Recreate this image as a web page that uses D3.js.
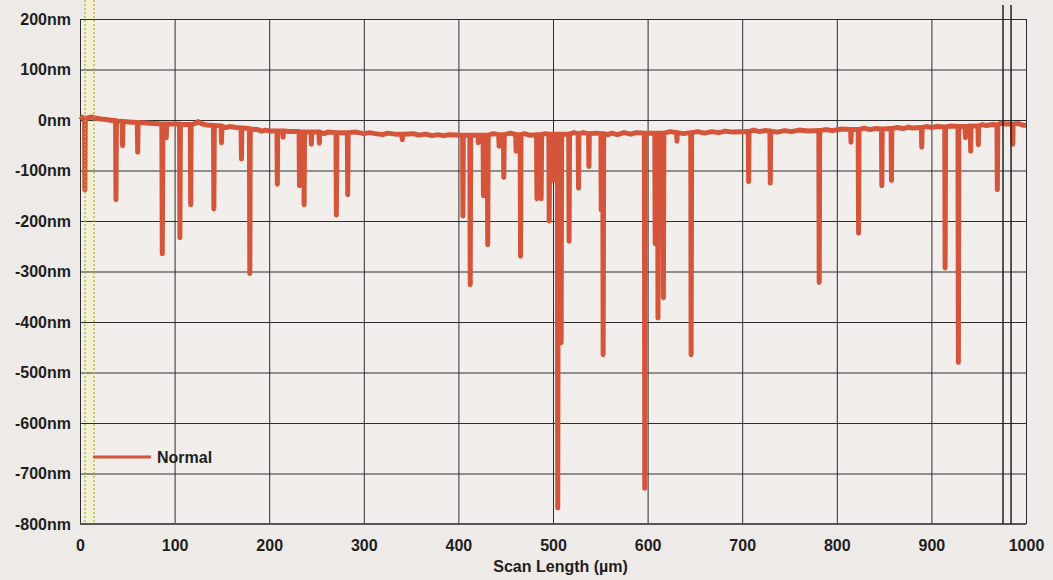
<!DOCTYPE html>
<html>
<head>
<meta charset="utf-8">
<script src="https://cdn.jsdelivr.net/npm/d3@7"></script>
<style>
  body { margin: 0; background: #eeeae7; }
  svg { display: block; }
  text { font-family: "Liberation Sans", Arial, sans-serif; font-weight: bold; fill: #1e1e1e; }
</style>
</head>
<body>
<div id="chart"></div>
<script>
// profile: [scan length um, height nm]
var profile = [
    [0, 7], [2, 5], [4.8, 4], [5.1, -138], [5.6, 3], [8, 4], [12, 6], [16, 4], [22, 2], [28, 1], [34, -1],
    [37.6, -1], [38, -158], [38.5, -2], [44.6, -3], [45, -51], [45.4, -3], [52, -4], [60.6, -5], [61, -64], [61.4, -5], [70, -6], [78, -7],
    [86.5, -8], [87, -265], [87.6, -8], [90.8, -8], [91.2, -35], [91.6, -8], [98, -8],
    [105.2, -8], [105.6, -233], [106.1, -9], [111, -9], [116.6, -9], [117, -168], [117.5, -9], [123, -6], [125, -3], [128, -7], [134, -10],
    [141.1, -11], [141.5, -176], [142, -11], [149.2, -12], [149.6, -45], [150, -12], [154, -15], [158, -13], [165, -15],
    [170.3, -16], [170.7, -77], [171.1, -16], [179.1, -17], [179.5, -304], [180, -18], [188, -19], [192, -22], [196, -20], [202, -22],
    [208.2, -22], [208.6, -127], [209, -22], [214.3, -22], [214.7, -34], [215.1, -22], [222, -23],
    [231.6, -23], [232, -130], [232.5, -24], [236.5, -24], [236.9, -168], [237.4, -24], [244.2, -24], [244.6, -48], [245, -24],
    [252.6, -24], [253, -46], [253.4, -24], [258, -27], [262, -24],
    [270.6, -25], [271, -188], [271.5, -25], [282.6, -25], [283, -148], [283.5, -25], [292, -24], [300, -27], [306, -25], [312, -27], [320, -29], [325, -26], [333, -28],
    [340.3, -28], [340.7, -39], [341.1, -28], [352, -27], [358, -30], [365, -28], [372, -31], [378, -29], [385, -31], [390, -29],
    [404.4, -30], [404.8, -190], [405.2, -30], [412.1, -30], [412.5, -326], [413, -30], [420.6, -30], [421, -45], [421.4, -30],
    [426.1, -30], [426.5, -150], [427, -30], [430.6, -30], [431, -247], [431.5, -30], [437, -27],
    [442.6, -29], [443, -52], [443.4, -29], [447.6, -29], [448, -114], [448.5, -29], [455, -26],
    [460.6, -29], [461, -62], [461.4, -29], [465.3, -29], [465.7, -270], [466.2, -29], [470, -27], [475, -30],
    [482.6, -29], [483, -156], [483.5, -29], [487.1, -29], [487.5, -156], [488, -29], [492, -27],
    [495.6, -28], [496, -200], [496.5, -28], [499.6, -28], [500, -120], [500.4, -28],
    [504.6, -28], [505, -768], [505.6, -28], [508.2, -28], [508.6, -441], [509.1, -28], [513, -28],
    [516.6, -28], [517, -240], [517.5, -28], [522, -25], [526.6, -27], [527, -135], [527.4, -27],
    [532, -25], [537.6, -27], [538, -92], [538.4, -27], [545, -26],
    [550.6, -27], [551, -178], [551.4, -27], [552.6, -27], [553, -465], [553.6, -27], [558, -29], [562, -26], [568, -29],
    [575, -25], [582, -28], [588, -25],
    [596.6, -26], [597, -729], [597.6, -26], [603, -26], [607.6, -26], [608, -245], [608.4, -26], [610.6, -26], [611, -392], [611.5, -26],
    [616.3, -26], [616.7, -352], [617.2, -26], [624, -23],
    [630.6, -25], [631, -42], [631.4, -25], [638, -27], [645.6, -25], [646, -465], [646.6, -25], [653, -23], [660, -26], [668, -23],
    [675, -25], [682, -22], [690, -24],
    [706.4, -23], [706.8, -122], [707.2, -23], [712, -20], [718, -23], [724, -21], [729.3, -22], [729.7, -125], [730.1, -22],
    [737, -24], [745, -21], [752, -23], [760, -20], [770, -22],
    [781, -21], [781.4, -322], [781.9, -21], [788, -19], [795, -21], [805, -18], [814.6, -19], [815, -44], [815.4, -19],
    [822.6, -19], [823, -224], [823.5, -19], [829, -16], [835, -19], [841, -17], [847.2, -18], [847.6, -130], [848, -18],
    [857.4, -17], [857.8, -120], [858.2, -17], [864, -15], [870, -17], [876, -14], [880, -16],
    [889.4, -15], [889.8, -54], [890.2, -15], [895, -13], [900, -15], [906, -13], [914.1, -14], [914.5, -293], [915, -14], [921, -12],
    [928.1, -13], [928.5, -480], [929, -13], [935.6, -13], [936, -35], [936.4, -13], [941.1, -12], [941.5, -62], [941.9, -12],
    [949.2, -12], [949.6, -49], [950, -12], [954, -9], [958, -11], [965, -9], [969.3, -10], [969.7, -138], [970.2, -10], [974, -6], [978, -8],
    [985.6, -8], [986, -48], [986.4, -8], [992, -7], [996, -10], [1000, -11]
];

var xTicks = [0, 100, 200, 300, 400, 500, 600, 700, 800, 900, 1000];
var yTicks = [200, 100, 0, -100, -200, -300, -400, -500, -600, -700, -800];
var yellowCursors = [5.3, 14.8];   // um
var blackCursors = [975.7, 984.2]; // um
var seriesName = "Normal";
var xTitle = "Scan Length (\u00b5m)";

var W = 1053, H = 580;
var red = "#d5553b";

var svg = d3.select("#chart").append("svg")
            .attr("width", W).attr("height", H);

var x = d3.scaleLinear().domain([0, 1000]).range([80, 1026]);
var y = d3.scaleLinear().domain([-800, 200]).range([524, 19]);

// plot background
svg.append("rect")
   .attr("x", x(0)).attr("y", y(200))
   .attr("width", x(1000) - x(0)).attr("height", y(-800) - y(200))
   .attr("fill", "#f1eeec");

// yellow cursor band
svg.append("rect")
   .attr("x", x(yellowCursors[0])).attr("y", 0)
   .attr("width", x(yellowCursors[1]) - x(yellowCursors[0]))
   .attr("height", y(-800))
   .attr("fill", "#f4f1d2");

// grid
svg.append("g")
   .attr("transform", "translate(0," + y(-800) + ")")
   .call(d3.axisBottom(x).tickValues(xTicks).tickSize(-(y(-800) - y(200))).tickFormat(""))
   .call(function(g) {
       g.select(".domain").remove();
       g.selectAll("line").attr("stroke", "#2e2e2e").attr("stroke-width", 1);
   });
svg.append("g")
   .attr("transform", "translate(" + x(0) + ",0)")
   .call(d3.axisLeft(y).tickValues(yTicks).tickSize(-(x(1000) - x(0))).tickFormat(""))
   .call(function(g) {
       g.select(".domain").remove();
       g.selectAll("line").attr("stroke", "#2e2e2e").attr("stroke-width", 1);
   });

// bottom edge is a bit heavier
svg.append("line")
   .attr("x1", x(0)).attr("x2", x(1000))
   .attr("y1", y(-800)).attr("y2", y(-800))
   .attr("stroke", "#555").attr("stroke-width", 2);

// tick labels
svg.append("g")
   .attr("transform", "translate(" + x(0) + ",0)")
   .call(d3.axisLeft(y).tickValues(yTicks).tickSize(0).tickPadding(9)
                       .tickFormat(function(d) { return d + "nm"; }))
   .call(function(g) {
       g.select(".domain").remove();
       g.selectAll("text").attr("font-size", 16).attr("fill", "#1e1e1e")
        .attr("font-family", "'Liberation Sans', Arial, sans-serif");
   });
svg.append("g")
   .attr("transform", "translate(0," + y(-800) + ")")
   .call(d3.axisBottom(x).tickValues(xTicks).tickSize(0).tickPadding(16)
                         .tickFormat(d3.format("d")))
   .call(function(g) {
       g.select(".domain").remove();
       g.selectAll("text").attr("font-size", 16).attr("fill", "#1e1e1e")
        .attr("font-family", "'Liberation Sans', Arial, sans-serif");
   });

svg.append("text")
   .attr("x", x(508)).attr("y", 572)
   .attr("text-anchor", "middle")
   .attr("font-size", 16)
   .text(xTitle);

// profile line
var line = d3.line()
             .x(function(d) { return x(d[0]); })
             .y(function(d) { return y(d[1]); });
svg.append("path")
   .datum(profile)
   .attr("d", line)
   .attr("fill", "none")
   .attr("stroke", red)
   .attr("stroke-width", 5)
   .attr("stroke-linejoin", "round");

// yellow dotted cursors
svg.selectAll(".ycur").data(yellowCursors).enter().append("line")
   .attr("x1", function(d) { return x(d); }).attr("x2", function(d) { return x(d); })
   .attr("y1", 0).attr("y2", y(-800))
   .attr("stroke", "#b9a822").attr("stroke-width", 1.2)
   .attr("stroke-dasharray", "2,2");

// black cursors
svg.selectAll(".bcur").data(blackCursors).enter().append("line")
   .attr("x1", function(d) { return x(d); }).attr("x2", function(d) { return x(d); })
   .attr("y1", 5).attr("y2", y(-800))
   .attr("stroke", "#222").attr("stroke-width", 1.5);

// legend
var leg = svg.append("g").attr("transform", "translate(93,457)");
leg.append("line")
   .attr("x1", 0).attr("x2", 58).attr("y1", 0).attr("y2", 0)
   .attr("stroke", red).attr("stroke-width", 3);
leg.append("text")
   .attr("x", 64).attr("y", 6)
   .attr("font-size", 16)
   .text(seriesName);
</script>
</body>
</html>
